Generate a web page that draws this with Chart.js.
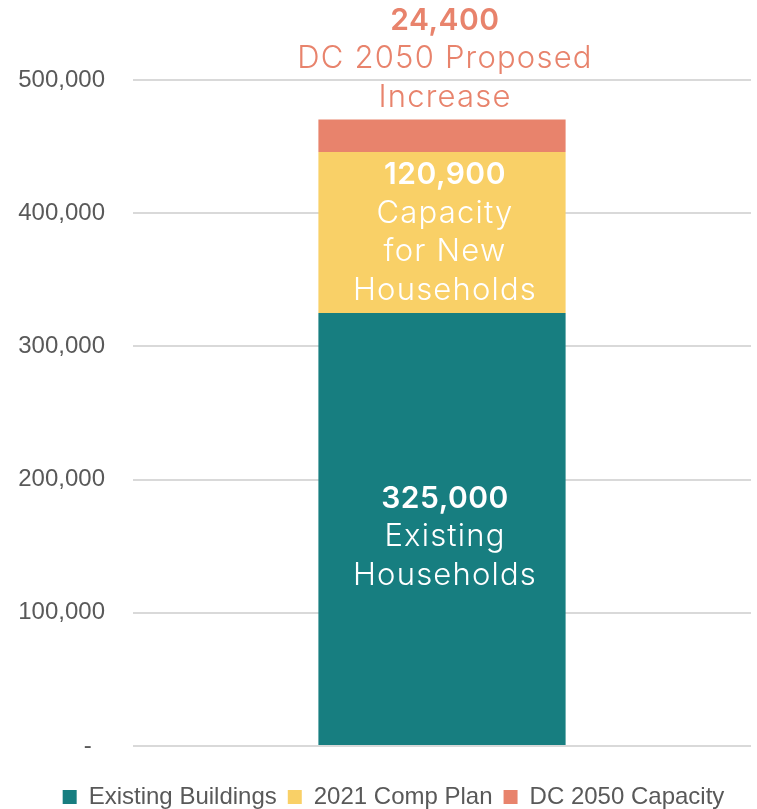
<!DOCTYPE html>
<html>
<head>
<meta charset="utf-8">
<script src="https://cdn.jsdelivr.net/npm/chart.js@4"></script>
<style>
  body { margin: 0; background: #fff; }
  #wrap { width: 757px; height: 809px; }
</style>
</head>
<body>
<div id="wrap"><canvas id="householdsChart" width="757" height="809"></canvas></div>
<script>
const categories = [''];
const seriesNames = ['Existing Buildings', '2021 Comp Plan', 'DC 2050 Capacity'];
const existingBuildings = [325000];
const compPlan2021 = [120900];
const dc2050Capacity = [24400];
const yTicks = [0, 100000, 200000, 300000, 400000, 500000];
const existingLabel = ['325,000', 'Existing', 'Households'];
const compPlanLabel = ['120,900', 'Capacity', 'for New', 'Households'];
const dc2050Label = ['24,400', 'DC 2050 Proposed', 'Increase'];

const labelFont = 'Inter, "Open Sans", sans-serif';
const axisFont = '"Liberation Sans", Arial, sans-serif';

// draws the text blocks on and above the bar segments
const segmentLabels = {
    id: 'segmentLabels',
    afterLayout(chart) {
        // legend sits a little right of the canvas centre
        chart.legend.left += 18;
        chart.legend.right += 18;
    },
    afterDatasetsDraw(chart) {
        const ctx = chart.ctx;
        const lineH = 38.5;
        ctx.save();
        ctx.textAlign = 'center';
        ctx.textBaseline = 'middle';

        function drawLines(lines, x, firstY, color) {
            lines.forEach((line, i) => {
                if (i === 0) {
                    ctx.font = '600 30px ' + labelFont;
                    ctx.letterSpacing = '0.5px';
                } else {
                    ctx.font = '300 31px ' + labelFont;
                    ctx.letterSpacing = '1.2px';
                }
                ctx.fillStyle = color;
                ctx.fillText(line, x, firstY + i * lineH);
            });
        }

        const bottomBar = chart.getDatasetMeta(0).data[0];
        const midBar = chart.getDatasetMeta(1).data[0];
        const topBar = chart.getDatasetMeta(2).data[0];

        let c = (bottomBar.y + bottomBar.base) / 2;
        drawLines(existingLabel, bottomBar.x + 3, c - (existingLabel.length - 1) * lineH / 2 + 8, '#ffffff');

        c = (midBar.y + midBar.base) / 2;
        drawLines(compPlanLabel, midBar.x + 3, c - (compPlanLabel.length - 1) * lineH / 2, '#ffffff');

        const lastY = topBar.y - 22;
        drawLines(dc2050Label, topBar.x + 3, lastY - (dc2050Label.length - 1) * lineH, '#E8836C');
        ctx.restore();
    }
};

const ctx = document.getElementById('householdsChart').getContext('2d');
const householdsChart = new Chart(ctx, {
    type: 'bar',
    data: {
        labels: categories,
        datasets: [
            { label: seriesNames[0], data: existingBuildings, backgroundColor: '#177E80' },
            { label: seriesNames[1], data: compPlan2021, backgroundColor: '#F9D067' },
            { label: seriesNames[2], data: dc2050Capacity, backgroundColor: '#E8836C' }
        ]
    },
    options: {
        responsive: false,
        animation: false,
        categoryPercentage: 0.4,
        barPercentage: 1.0,
        layout: { padding: { top: 80, right: 6, left: 0, bottom: -10 } },
        scales: {
            x: {
                stacked: true,
                grid: { display: false },
                border: { display: false },
                ticks: { display: false },
                afterFit(axis) { axis.height = 28; }
            },
            y: {
                stacked: true,
                min: 0,
                max: 500000,
                afterBuildTicks(axis) {
                    axis.ticks = yTicks.map(v => ({ value: v }));
                },
                afterFit(axis) { axis.width = 133; },
                grid: { color: '#D9D9D9', lineWidth: 2, drawTicks: false },
                border: { display: false },
                ticks: {
                    padding: 28,
                    color: '#595959',
                    font: { family: axisFont, size: 24 },
                    callback: v => v === 0 ? '-  ' : v.toLocaleString('en-US')
                }
            }
        },
        plugins: {
            legend: {
                position: 'bottom',
                labels: {
                    boxWidth: 14,
                    boxHeight: 14,
                    padding: 11,
                    color: '#595959',
                    font: { family: axisFont, size: 24 }
                }
            },
            tooltip: { enabled: false }
        }
    },
    plugins: [segmentLabels]
});
</script>
</body>
</html>
